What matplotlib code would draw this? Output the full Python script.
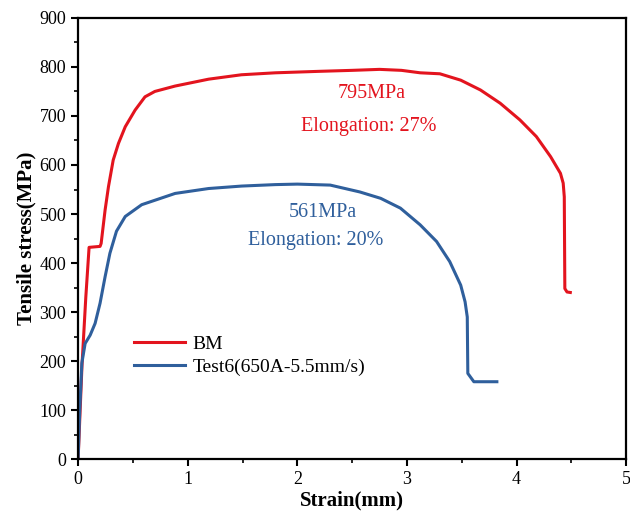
import numpy as np
import matplotlib.pyplot as plt
from matplotlib.ticker import MultipleLocator

plt.rcParams['font.family'] = ['Liberation Serif', 'DejaVu Serif']

# Curva do metal base (BM)
bm_strain = [0, 0.035, 0.07, 0.10, 0.15, 0.20, 0.21, 0.246, 0.277, 0.32, 0.368,
             0.43, 0.52, 0.61, 0.70, 0.885, 1.19, 1.49, 1.80, 2.2, 2.5, 2.75,
             2.95, 3.12, 3.30, 3.49, 3.67, 3.85, 4.03, 4.18, 4.31, 4.40, 4.425,
             4.435, 4.44, 4.46, 4.49]
bm_stress = [0, 190, 330, 432, 433, 434, 440, 508, 556, 610, 644,
             678, 712, 739, 750, 761, 775, 784, 788, 791, 793, 795,
             793, 788, 786, 773, 753, 726, 692, 658, 617, 583, 563,
             535, 348, 341, 340]

# Curva do Test6 (650A-5.5mm/s)
t6_strain = [0, 0.015, 0.034, 0.064, 0.11, 0.155, 0.20, 0.246, 0.29, 0.35, 0.43,
             0.58, 0.885, 1.19, 1.49, 1.80, 2.0, 2.30, 2.57, 2.76, 2.94, 3.12,
             3.27, 3.39, 3.49, 3.53, 3.55, 3.555, 3.61, 3.82]
t6_stress = [0, 100, 196, 236, 253, 277, 318, 372, 420, 465, 495,
             519, 542, 552, 557, 560, 561, 559, 545, 532, 512, 478,
             444, 403, 355, 321, 290, 175, 158, 158]

red = '#e3141e'
blue = '#2f5f9c'

fig = plt.figure(figsize=(6.3, 5.26), dpi=100)
ax = fig.add_axes([0.124, 0.127, 0.870, 0.839])

ax.plot(bm_strain, bm_stress, color=red, lw=2.2, label='BM')
ax.plot(t6_strain, t6_stress, color=blue, lw=2.2, label='Test6(650A-5.5mm/s)')

ax.set_xlim(0, 5)
ax.set_ylim(0, 900)
ax.xaxis.set_major_locator(MultipleLocator(1))
ax.xaxis.set_minor_locator(MultipleLocator(0.5))
ax.yaxis.set_major_locator(MultipleLocator(100))
ax.yaxis.set_minor_locator(MultipleLocator(50))
ax.tick_params(which='major', direction='out', length=5, width=1.5, labelsize=13)
ax.tick_params(which='minor', direction='out', length=3, width=1.2)
for s in ax.spines.values():
    s.set_linewidth(1.6)

ax.set_xlabel('Strain(mm)', fontsize=15, fontweight='bold', labelpad=2)
ax.set_ylabel('Tensile stress(MPa)', fontsize=15, fontweight='bold', labelpad=2)

ax.text(2.68, 745, '795MPa', color=red, fontsize=14.5, ha='center', va='center')
ax.text(2.65, 678, 'Elongation: 27%', color=red, fontsize=14.5, ha='center', va='center')
ax.text(2.23, 504, '561MPa', color=blue, fontsize=14.5, ha='center', va='center')
ax.text(2.17, 445, 'Elongation: 20%', color=blue, fontsize=14.5, ha='center', va='center')

ax.legend(loc='lower left', bbox_to_anchor=(0.07, 0.15), frameon=False, fontsize=14,
          handlelength=2.6, handletextpad=0.4, labelspacing=0.25)

fig.savefig('out.png', dpi=100)
